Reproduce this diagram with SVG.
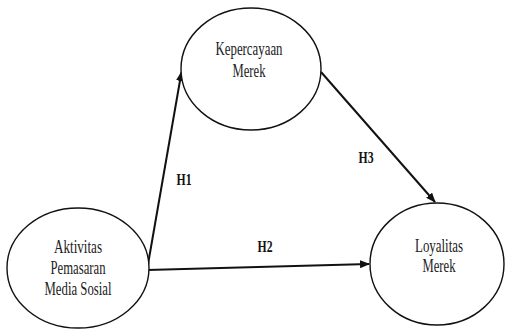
<svg xmlns="http://www.w3.org/2000/svg" width="505" height="329" viewBox="0 0 505 329">
<defs>
<style>
.node ellipse{fill:#fff;stroke:#111;stroke-width:1.4}
.t{font-family:"Liberation Serif","Times New Roman",serif;font-size:18px;fill:#222;text-anchor:middle}
.lbl{font-family:"Liberation Serif","Times New Roman",serif;font-size:17px;font-weight:bold;fill:#111;text-anchor:middle}
.edge{stroke:#111;stroke-width:2;fill:none;marker-end:url(#ah)}
</style>
<marker id="ah" markerWidth="10" markerHeight="8" refX="9" refY="4" orient="auto" markerUnits="userSpaceOnUse">
<path d="M0,0 L10,4 L0,8 Z" fill="#111"/>
</marker>
</defs>
<rect width="505" height="329" fill="#fff"/>
<g id="connectors">
<line class="edge" x1="147" y1="270" x2="181.5" y2="72"/>
<line class="edge" x1="147" y1="270" x2="369" y2="264"/>
<line class="edge" x1="321" y1="72" x2="435" y2="202"/>
<text class="lbl" x="184" y="185" textLength="15" lengthAdjust="spacingAndGlyphs">H1</text>
<text class="lbl" x="265" y="252" textLength="15" lengthAdjust="spacingAndGlyphs">H2</text>
<text class="lbl" x="366" y="163" textLength="15" lengthAdjust="spacingAndGlyphs">H3</text>
</g>
<g id="node-aktivitas" class="node">
<ellipse cx="78" cy="268" rx="71" ry="60"/>
<text class="t" x="78" y="253" textLength="48" lengthAdjust="spacingAndGlyphs">Aktivitas</text>
<text class="t" x="78" y="274" textLength="55" lengthAdjust="spacingAndGlyphs">Pemasaran</text>
<text class="t" x="78" y="295" textLength="67" lengthAdjust="spacingAndGlyphs">Media Sosial</text>
</g>
<g id="node-kepercayaan" class="node">
<ellipse cx="251" cy="69" rx="70" ry="61"/>
<text class="t" x="249" y="55" textLength="67" lengthAdjust="spacingAndGlyphs">Kepercayaan</text>
<text class="t" x="249" y="77" textLength="33" lengthAdjust="spacingAndGlyphs">Merek</text>
</g>
<g id="node-loyalitas" class="node">
<ellipse cx="437" cy="264" rx="67" ry="61"/>
<text class="t" x="439" y="252" textLength="48" lengthAdjust="spacingAndGlyphs">Loyalitas</text>
<text class="t" x="439" y="272" textLength="33" lengthAdjust="spacingAndGlyphs">Merek</text>
</g>
</svg>
